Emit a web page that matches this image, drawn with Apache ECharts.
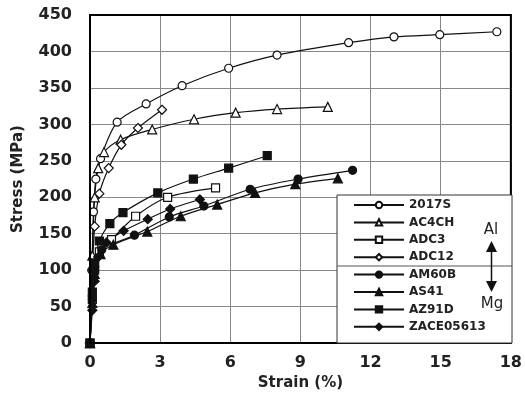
<!DOCTYPE html>
<html>
<head>
<meta charset="utf-8">
<script src="https://cdn.jsdelivr.net/npm/echarts@6/dist/echarts.min.js"></script>
<style>
html,body{margin:0;padding:0;background:#fff;}
#main{width:525px;height:396px;}
</style>
</head>
<body>
<div id="main"></div>
<script>
// strain (%) / stress (MPa) pairs
var s2017S = [[0,0],[0.08,100],[0.15,180],[0.25,225],[0.45,253],[1.16,303],[2.4,328],[3.94,353],[5.93,377],[8.0,395],[11.06,412],[13.0,420],[14.96,423],[17.4,427]];
var sAC4CH = [[0,0],[0.1,120],[0.2,200],[0.35,240],[0.6,262],[1.31,279],[2.66,293],[4.45,307],[6.23,316],[8.0,321],[10.17,324]];
var sADC3 = [[0,0],[0.1,60],[0.2,100],[0.4,125],[0.92,142],[1.95,174],[3.32,200],[5.37,213]];
var sADC12 = [[0,0],[0.1,100],[0.2,160],[0.4,205],[0.8,240],[1.34,272],[2.05,295],[3.08,320]];
var sAM60B = [[0,0],[0.1,60],[0.2,100],[0.5,128],[1.9,148],[3.39,173],[4.87,188],[6.85,211],[8.9,225],[11.23,237]];
var sAS41 = [[0,0],[0.1,55],[0.2,95],[0.45,122],[1.0,135],[2.45,153],[3.88,174],[5.44,190],[7.06,206],[8.78,218],[10.6,226]];
var sAZ91D = [[0,0],[0.1,70],[0.2,110],[0.4,140],[0.85,164],[1.41,179],[2.9,206],[4.42,225],[5.93,240],[7.58,257]];
var sZACE = [[0,0],[0.1,45],[0.2,85],[0.35,118],[0.7,138],[1.44,154],[2.47,170],[3.43,184],[4.7,197]];

var xTicks = [0,3,6,9,12,15,18];
var yTicks = [0,50,100,150,200,250,300,350,400,450];

var names = ['2017S','AC4CH','ADC3','ADC12','AM60B','AS41','AZ91D','ZACE05613'];

var myChart = echarts.init(document.getElementById('main'));

// 一个系列的样式
function mkSeries(name, data, symbol, filled, size) {
    return {
        name: name,
        type: 'line',
        data: data,
        smooth: 0.3,
        symbol: symbol,
        symbolSize: size,
        showAllSymbol: true,
        lineStyle: {color: '#111', width: 1.2},
        itemStyle: {color: filled ? '#111' : '#fff', borderColor: '#111', borderWidth: 1.2},
        emphasis: {disabled: true},
        z: 3
    };
}

var lblFont = {fontFamily: 'DejaVu Sans', fontWeight: 'bold', fontSize: 16, color: '#222'};

var option = {
    animation: false,
    backgroundColor: '#fff',
    grid: {left: 90, right: 12, top: 15, bottom: 52, show: true, borderColor: '#000', borderWidth: 2, z: 4},
    xAxis: {
        type: 'value', min: 0, max: 18, interval: 3,
        name: 'Strain (%)', nameLocation: 'middle', nameGap: 30,
        nameTextStyle: {fontFamily: 'DejaVu Sans', fontWeight: 'bold', fontSize: 15, color: '#222'},
        axisLine: {show: false}, axisTick: {show: false},
        axisLabel: Object.assign({margin: 12, formatter: function (v) { return xTicks.indexOf(v) >= 0 ? v : ''; }}, lblFont),
        splitLine: {show: true, lineStyle: {color: '#888', width: 1}}
    },
    yAxis: {
        type: 'value', min: 0, max: 450, interval: 50,
        name: 'Stress (MPa)', nameLocation: 'middle', nameGap: 64,
        nameTextStyle: {fontFamily: 'DejaVu Sans', fontWeight: 'bold', fontSize: 15, color: '#222'},
        axisLine: {show: false}, axisTick: {show: false},
        axisLabel: Object.assign({margin: 18, formatter: function (v) { return yTicks.indexOf(v) >= 0 ? v : ''; }}, lblFont),
        splitLine: {show: true, lineStyle: {color: '#888', width: 1}}
    },
    legend: {
        data: names,
        orient: 'vertical',
        left: 353, top: 199, padding: 0,
        itemWidth: 50, itemHeight: 8, itemGap: 5.4,
        textStyle: {fontFamily: 'DejaVu Sans', fontWeight: 'bold', fontSize: 12, color: '#222'},
        z: 10
    },
    graphic: [
        {type: 'rect', shape: {x: 337, y: 195, width: 175, height: 148}, style: {fill: '#fff', stroke: '#333', lineWidth: 1}, z: 5},
        {type: 'line', shape: {x1: 337, y1: 266, x2: 512, y2: 266}, style: {stroke: '#555', lineWidth: 1}, z: 6},
        {type: 'text', x: 491, y: 230, style: {text: 'Al', fontFamily: 'DejaVu Sans', fontSize: 15, fill: '#222', align: 'center', verticalAlign: 'middle'}, z: 6},
        {type: 'text', x: 492, y: 304, style: {text: 'Mg', fontFamily: 'DejaVu Sans', fontSize: 15, fill: '#222', align: 'center', verticalAlign: 'middle'}, z: 6},
        {type: 'polygon', shape: {points: [[491.5, 241], [486, 252], [497, 252]]}, style: {fill: '#111'}, z: 6},
        {type: 'polygon', shape: {points: [[491.5, 292], [486, 281], [497, 281]]}, style: {fill: '#111'}, z: 6},
        {type: 'line', shape: {x1: 491.5, y1: 251, x2: 491.5, y2: 282}, style: {stroke: '#111', lineWidth: 1.5}, z: 6}
    ],
    series: [
        mkSeries('2017S', s2017S, 'circle', false, 8),
        mkSeries('AC4CH', sAC4CH, 'triangle', false, 9),
        mkSeries('ADC3', sADC3, 'rect', false, 8),
        mkSeries('ADC12', sADC12, 'diamond', false, 9),
        mkSeries('AM60B', sAM60B, 'circle', true, 8),
        mkSeries('AS41', sAS41, 'triangle', true, 9),
        mkSeries('AZ91D', sAZ91D, 'rect', true, 8),
        mkSeries('ZACE05613', sZACE, 'diamond', true, 9)
    ]
};

myChart.setOption(option);
</script>
</body>
</html>
